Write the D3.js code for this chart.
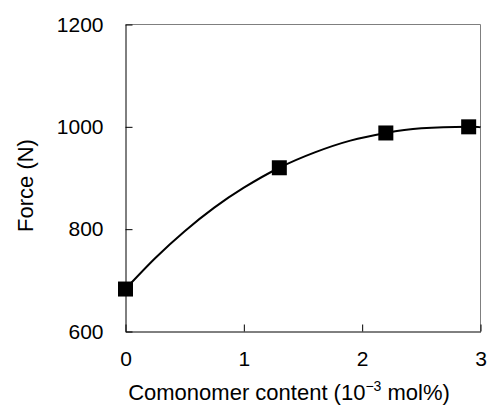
<!DOCTYPE html>
<html>
<head>
<meta charset="utf-8">
<script src="https://cdn.jsdelivr.net/npm/d3@7"></script>
<style>
  body { margin: 0; background: #fff; }
  svg text { font-family: "Liberation Sans", Arial, sans-serif; fill: #000; }
</style>
</head>
<body>
<div id="chart"></div>
<script>
/*Data*/
var content = [0, 1.3, 2.2, 2.9];
var force = [683, 920, 988, 1000];

/*Fitted curve*/
var fit_x = [0, 0.25, 0.5, 0.75, 1, 1.3, 1.6, 1.9, 2.2, 2.5, 2.9, 3];
var fit_y = [683, 743, 796, 842, 881, 920, 950, 973, 988, 997, 1000, 999];

var x_ticks = [0, 1, 2, 3];
var y_ticks = [600, 800, 1000, 1200];

/*SVG Size*/
var width = 489;
var height = 408;

var plot_l = 125.5, plot_r = 480.5, plot_t = 24.5, plot_b = 331.5;

var svg = d3.select("#chart").append("svg")
			.attr("width", width)
			.attr("height", height);

var x = d3.scaleLinear().domain([0, 3]).range([plot_l, plot_r]);
var y = d3.scaleLinear().domain([600, 1200]).range([plot_b, plot_t]);

/*Frame top / right*/
svg.append("path")
   .attr("d", "M" + plot_l + "," + plot_t + "H" + plot_r + "V" + plot_b)
   .attr("fill", "none")
   .attr("stroke", "#7f7f7f")
   .attr("stroke-width", 1);

/*Axes*/
var x_axis = svg.append("g")
				.attr("transform", "translate(0," + plot_b + ")")
				.call(d3.axisBottom(x).tickValues(x_ticks).tickFormat(d3.format("d"))
						.tickSizeInner(-7).tickSizeOuter(0).tickPadding(20));

var y_axis = svg.append("g")
				.attr("transform", "translate(" + plot_l + ",0)")
				.call(d3.axisLeft(y).tickValues(y_ticks).tickFormat(d3.format("d"))
						.tickSizeInner(-7).tickSizeOuter(0).tickPadding(22));

svg.selectAll(".domain").attr("stroke", "#000");
svg.selectAll(".tick line").attr("stroke", "#000");
svg.selectAll(".tick text").attr("font-size", 21).attr("font-family", null);

/*Curve*/
var fit = fit_x.map(function(d, i){ return [d, fit_y[i]]; });
svg.append("path")
   .datum(fit)
   .attr("d", d3.line().x(function(d){ return x(d[0]); })
                       .y(function(d){ return y(d[1]); })
                       .curve(d3.curveNatural))
   .attr("fill", "none")
   .attr("stroke", "#000")
   .attr("stroke-width", 2);

/*Markers*/
var mk = 15;
svg.selectAll("rect.pt")
   .data(content)
   .enter().append("rect")
   .attr("class", "pt")
   .attr("x", function(d){ return x(d) - mk/2; })
   .attr("y", function(d, i){ return y(force[i]) - mk/2; })
   .attr("width", mk)
   .attr("height", mk)
   .attr("fill", "#000");

/*Titles*/
var xt = svg.append("text")
			.attr("x", 289)
			.attr("y", 400)
			.attr("text-anchor", "middle")
			.attr("font-size", 22);
xt.append("tspan").text("Comonomer content (10");
xt.append("tspan").attr("font-size", 14).attr("dy", -9).text("\u22123");
xt.append("tspan").attr("dy", 9).text(" mol%)");

svg.append("text")
   .attr("transform", "translate(33,185.5) rotate(-90)")
   .attr("text-anchor", "middle")
   .attr("font-size", 22)
   .text("Force (N)");
</script>
</body>
</html>
